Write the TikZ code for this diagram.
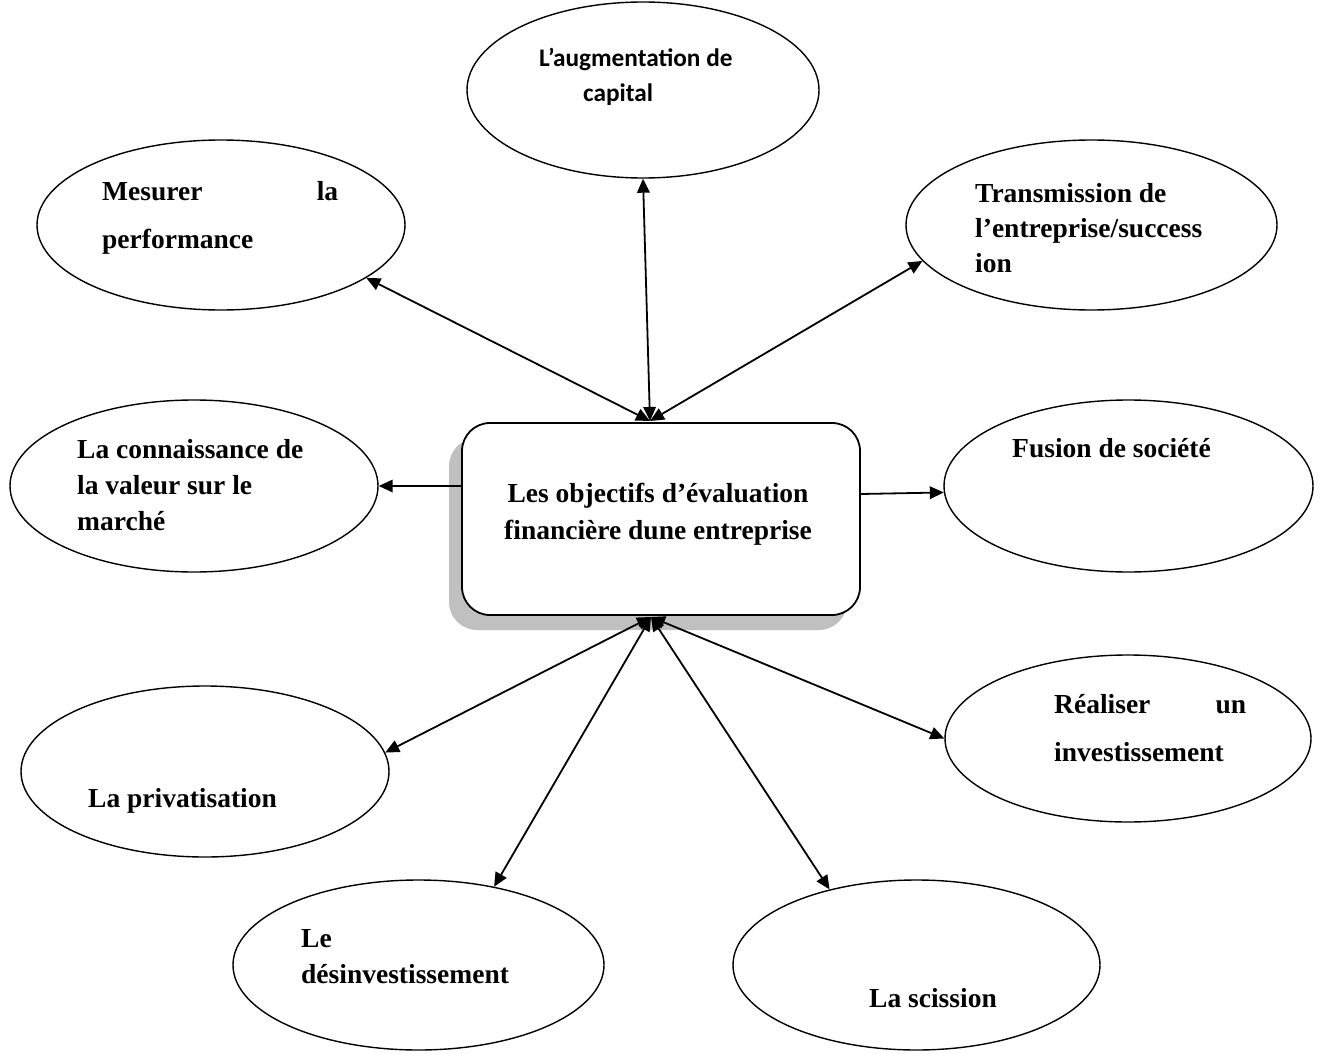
\documentclass[tikz,border=0pt]{standalone}
\usepackage{fontspec}
\setmainfont{Liberation Serif}
\newfontfamily\calibri{Carlito}
\usetikzlibrary{shapes.geometric,arrows.meta}
\definecolor{shadowgray}{HTML}{C0C0C0}

\begin{document}
\begin{tikzpicture}[x=1pt,y=-1pt,
  goal/.style={draw, ellipse, line width=1.4pt, inner sep=0pt},
  lbl/.style={anchor=base west, inner sep=0pt},
  tnr/.style={font=\fontsize{27.5}{36}\selectfont\bfseries},
  link/.style={line width=1.8pt, {Triangle[length=14pt,width=12.5pt]}-{Triangle[length=14pt,width=12.5pt]}},
  oneway/.style={line width=1.8pt, -{Triangle[length=14pt,width=12.5pt]}},
]
\useasboundingbox (0,0) rectangle (1322,1054);

% central box with its drop shadow
\node[fill=shadowgray, rounded corners=28pt, minimum width=398pt, minimum height=192pt, inner sep=0pt] (ctrshadow) at (648,534) {};
\node[draw, fill=white, rounded corners=28pt, line width=1.8pt, minimum width=398pt, minimum height=192pt, inner sep=0pt] (ctr) at (661,519) {};
\node[anchor=base, inner sep=0pt, tnr] (ctrtext) at (658,502)
  {\parbox[t]{360pt}{\centering\fontsize{27.5}{37}\selectfont Les objectifs d’évaluation\\ financière dune entreprise}};

% surrounding objectives
\node[goal, minimum width=352pt, minimum height=176pt] (aug) at (643,90) {};
\node[goal, minimum width=368pt, minimum height=170pt] (mes) at (221,225) {};
\node[goal, minimum width=371pt, minimum height=170pt] (tra) at (1091.5,225) {};
\node[goal, minimum width=368pt, minimum height=172pt] (con) at (194,486) {};
\node[goal, minimum width=369pt, minimum height=172pt] (fus) at (1128.5,486) {};
\node[goal, minimum width=368pt, minimum height=171pt] (pri) at (205,771.5) {};
\node[goal, minimum width=366pt, minimum height=167pt] (rea) at (1128,738.5) {};
\node[goal, minimum width=371pt, minimum height=170pt] (des) at (418.5,965) {};
\node[goal, minimum width=367pt, minimum height=170pt] (sci) at (916.5,965) {};

% labels
\node[lbl, font=\calibri\bfseries] (augtext) at (539,67)
  {\parbox[t]{230pt}{\fontsize{25.3}{35}\selectfont L’augmentation de\\\hspace*{44pt}capital}};
\node[lbl, tnr] (mestext) at (102,200)
  {\parbox[t]{236pt}{\fontsize{27.5}{48}\selectfont Mesurer\hfill la\\performance}};
\node[lbl, tnr] (tratext) at (975,202)
  {\parbox[t]{260pt}{\fontsize{27.5}{35}\selectfont Transmission de\\l’entreprise/success\\ion}};
\node[lbl, tnr] (context) at (77,458)
  {\parbox[t]{260pt}{\fontsize{27.5}{36}\selectfont La connaissance de\\la valeur sur le\\marché}};
\node[lbl, tnr] (fustext) at (1012,457) {Fusion de société};
\node[lbl, tnr] (pritext) at (88,807) {La privatisation};
\node[lbl, tnr] (reatext) at (1054,713)
  {\parbox[t]{192pt}{\fontsize{27.5}{48}\selectfont Réaliser\hfill un\\investissement}};
\node[lbl, tnr] (destext) at (301,947)
  {\parbox[t]{260pt}{\fontsize{27.5}{36}\selectfont Le\\désinvestissement}};
\node[lbl, tnr] (scitext) at (869,1007) {La scission};

% connectors
\coordinate (tophub) at (650,421);
\coordinate (bothub) at (651,617);
\draw[link] (tophub) -- (aug.-90);
\draw[link] (tophub) -- (mes.-20.6);
\draw[link] (tophub) -- (tra.-168.7);
\draw[oneway] (ctr.west |- con.east) -- (con.east);
\draw[oneway] ([yshift=25pt]ctr.east) -- (fus.182);
\draw[link] (bothub) -- (pri.6);
\draw[link] (bothub) -- (des.46);
\draw[link] (bothub) -- (sci.139);
\draw[link] (bothub) -- (rea.180);
\end{tikzpicture}
\end{document}
